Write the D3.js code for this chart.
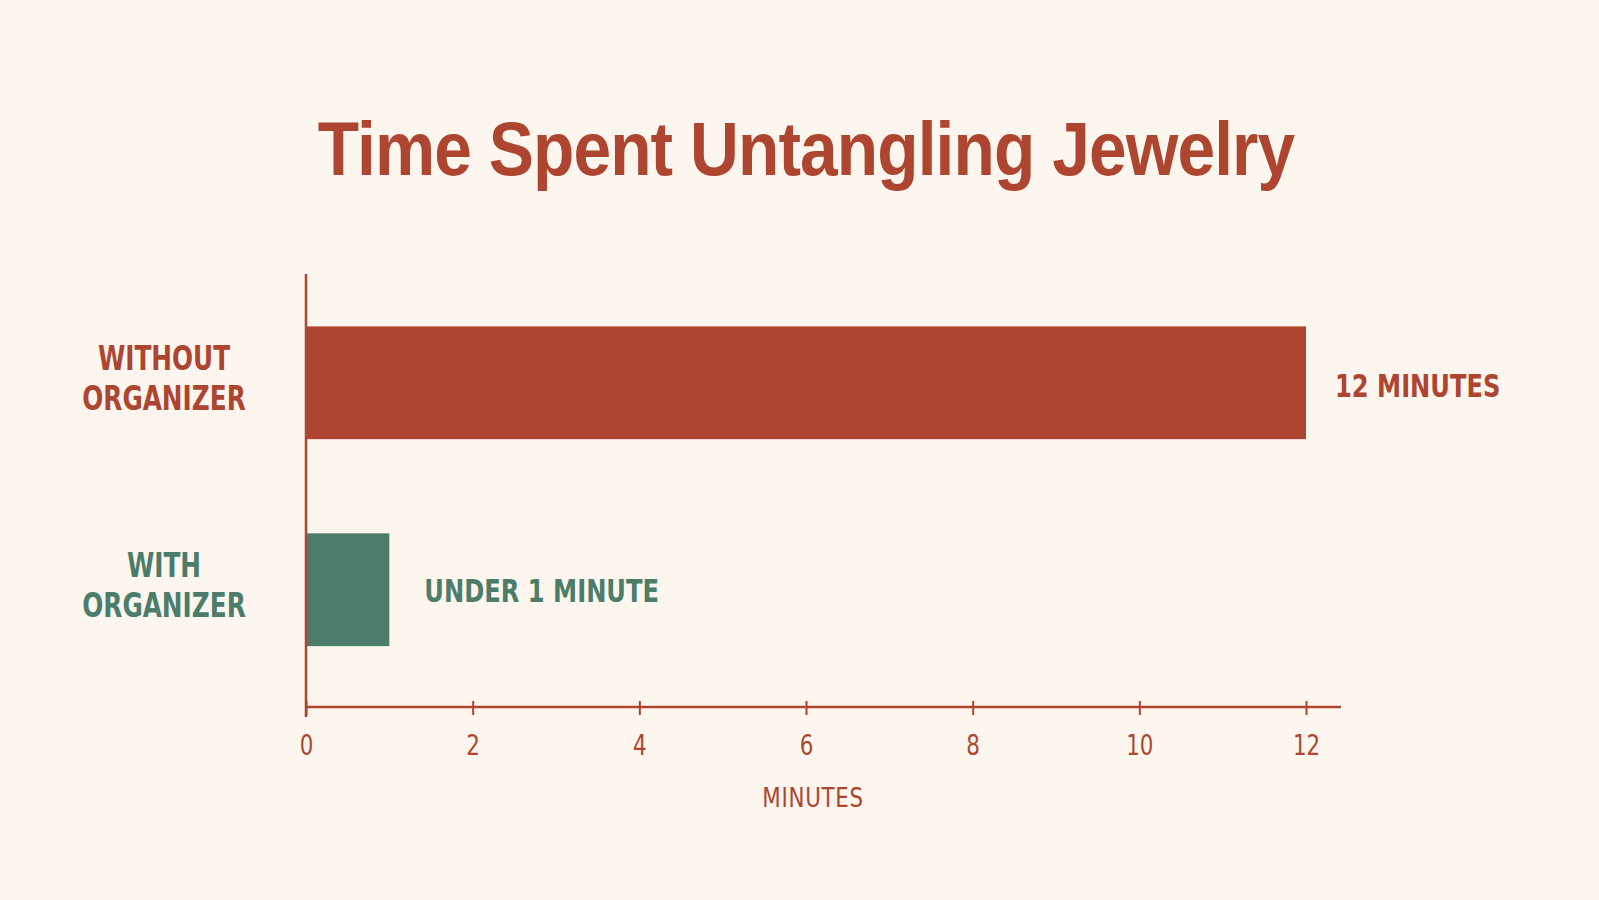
<!DOCTYPE html>
<html>
<head>
<meta charset="utf-8">
<script src="https://cdn.jsdelivr.net/npm/d3@7"></script>
<style>
  html, body { margin: 0; padding: 0; background: #fcf6ee; }
  svg { display: block; }
</style>
</head>
<body>
<svg id="chart" width="1599" height="900"></svg>
<script>
// data
const categories = ['WITHOUT ORGANIZER', 'WITH ORGANIZER'];
const labelLines = [['WITHOUT', 'ORGANIZER'], ['WITH', 'ORGANIZER']];
const minutes = [12, 1];
const valueLabels = ['12 MINUTES', 'UNDER 1 MINUTE'];
const tickValues = [0, 2, 4, 6, 8, 10, 12];

const RED = '#ae4530';
const GREEN = '#4b7d6a';
const barColors = [RED, GREEN];

const svg = d3.select('#chart');
// no narrow font installed, so condensed text is squeezed horizontally
const narrow = '"DejaVu Sans Condensed", "Roboto", sans-serif';

svg.append('g')
  .attr('transform', 'translate(806,175) scale(0.89,1)')
  .append('text')
  .attr('text-anchor', 'middle')
  .attr('fill', RED)
  .attr('font-family', '"Liberation Sans", Arial, sans-serif')
  .attr('font-weight', 700)
  .attr('font-size', 76)
  .attr('letter-spacing', -1)
  .text('Time Spent Untangling Jewelry');

const x = d3.scaleLinear().domain([0, 12.42]).range([306, 1341]);
const y = d3.scaleBand().domain(categories).range([270.5, 702])
  .paddingInner(0.455).paddingOuter(0.27);

// bars
svg.selectAll('rect.bar')
  .data(categories)
  .join('rect')
  .attr('class', 'bar')
  .attr('x', x(0))
  .attr('y', (d) => y(d))
  .attr('width', (d, i) => x(minutes[i]) - x(0))
  .attr('height', y.bandwidth())
  .attr('fill', (d, i) => barColors[i]);

// value labels
svg.selectAll('g.val')
  .data(categories)
  .join('g')
  .attr('class', 'val')
  .attr('transform', (d, i) =>
    `translate(${x(minutes[i]) + (i === 0 ? 29 : 35)},${y(d) + y.bandwidth() / 2 + (i === 0 ? 3 : 1)}) scale(0.84,1)`)
  .append('text')
  .attr('dy', '0.36em')
  .attr('fill', (d, i) => barColors[i])
  .attr('font-family', narrow)
  .attr('font-weight', 700)
  .attr('font-size', 32)
  .text((d, i) => valueLabels[i]);

// category labels
svg.selectAll('g.cat')
  .data(categories)
  .join('g')
  .attr('class', 'cat')
  .attr('transform', (d) => `translate(164,${y(d) + y.bandwidth() / 2}) scale(0.81,1)`)
  .each(function (d, i) {
    d3.select(this).append('text')
      .attr('text-anchor', 'middle')
      .attr('fill', barColors[i])
      .attr('font-family', narrow)
      .attr('font-weight', 700)
      .attr('font-size', 34)
      .selectAll('tspan')
      .data(labelLines[i])
      .join('tspan')
      .attr('x', 0)
      .attr('y', (t, j) => -25 + j * 40)
      .attr('dy', '0.36em')
      .text((t) => t);
  });

// y axis line
svg.append('line')
  .attr('x1', x(0)).attr('x2', x(0))
  .attr('y1', 274).attr('y2', 717)
  .attr('stroke', RED).attr('stroke-width', 2.5);

// x axis
const xAxis = d3.axisBottom(x)
  .tickValues(tickValues)
  .tickSize(0)
  .tickPadding(24)
  .tickFormat(d3.format('d'));

const gx = svg.append('g')
  .attr('transform', 'translate(0,707)')
  .call(xAxis);
gx.select('.domain')
  .attr('stroke', RED).attr('stroke-width', 2.5)
  .attr('d', `M${x(0)},0H${x.range()[1]}`);
gx.selectAll('.tick').append('line')
  .attr('y1', -6).attr('y2', 8)
  .attr('stroke', RED).attr('stroke-width', 2);
gx.selectAll('.tick text')
  .attr('fill', RED)
  .attr('font-family', narrow)
  .attr('font-size', 28)
  .attr('dy', '0.86em')
  .attr('transform', 'scale(0.85,1)');

svg.append('g')
  .attr('transform', 'translate(813,797) scale(0.88,1)')
  .append('text')
  .attr('dy', '0.36em')
  .attr('text-anchor', 'middle')
  .attr('fill', RED)
  .attr('font-family', narrow)
  .attr('font-weight', 500)
  .attr('font-size', 27)
  .attr('letter-spacing', 0.8)
  .text('MINUTES');
</script>
</body>
</html>
